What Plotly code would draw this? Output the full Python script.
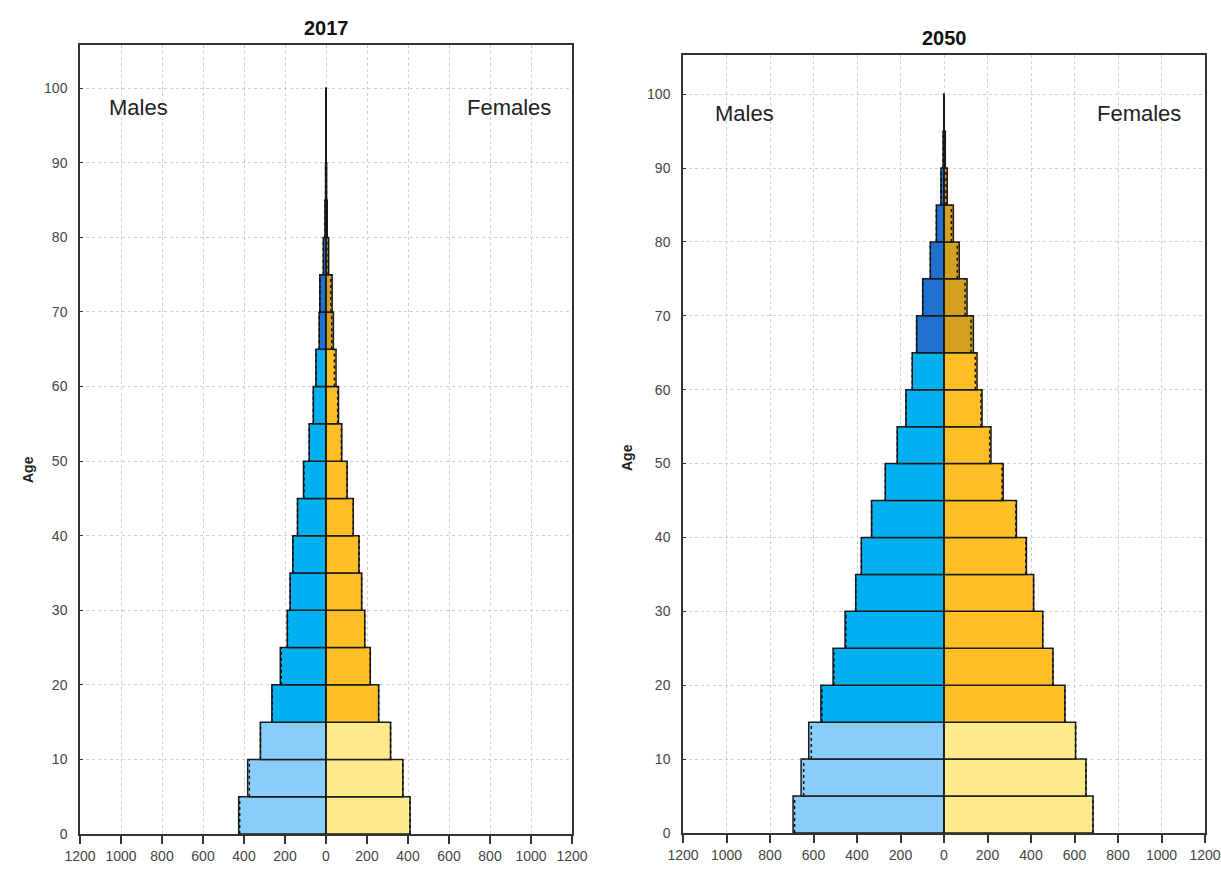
import plotly.graph_objects as go
from plotly.subplots import make_subplots

# Age groups: 0-4, 5-9, ..., 95-99 (lower bound of each group)
AGE_START = [0, 5, 10, 15, 20, 25, 30, 35, 40, 45, 50, 55, 60, 65, 70, 75, 80, 85, 90, 95]

# 2017 population (thousands)
MALE_2017 = [426, 382, 320, 264, 223, 189, 175, 162, 139, 110, 82, 62, 49, 33, 30, 13, 5, 2, 1, 0.5]
FEMALE_2017 = [410, 375, 315, 257, 216, 189, 174, 161, 133, 103, 77, 61, 49, 36, 30, 13, 6, 3, 1, 0.5]
# comparison outline (dotted)
MALE_2017_REF = [421, 374, 320, 262, 218, 188, 175, 161, 139, 107, 82, 62, 49, 33, 30, 13, 5, 2, 1, 0.5]
FEMALE_2017_REF = [410, 375, 315, 257, 216, 189, 174, 161, 133, 103, 75, 57, 41, 28, 24, 10, 5, 2, 1, 0.5]

# 2050 population (thousands)
MALE_2050 = [694, 657, 622, 566, 510, 455, 406, 380, 333, 270, 215, 175, 146, 126, 98, 63, 35, 14, 4, 1]
FEMALE_2050 = [685, 653, 605, 556, 501, 454, 412, 379, 333, 272, 216, 175, 152, 135, 106, 70, 43, 15, 6, 1]
MALE_2050_REF = [687, 645, 610, 561, 506, 451, 406, 380, 333, 270, 215, 175, 146, 126, 98, 63, 35, 14, 4, 1]
FEMALE_2050_REF = [685, 653, 605, 556, 501, 454, 412, 376, 330, 267, 210, 170, 144, 124, 97, 61, 34, 9, 3, 1]

X_TICKS = [-1200, -1000, -800, -600, -400, -200, 0, 200, 400, 600, 800, 1000, 1200]
Y_TICKS = [0, 10, 20, 30, 40, 50, 60, 70, 80, 90, 100]

# colours: child (0-14), working (15-64), old (65+)
MALE_COLORS = ['#8ACDF8', '#00B0F0', '#1F70CF']
FEMALE_COLORS = ['#FEE98B', '#FDBF25', '#D4A020']

FONT = 'Liberation Sans Narrow, Arial Narrow, Liberation Sans, Arial, sans-serif'


def band_color(age, palette):
    if age < 15:
        return palette[0]
    if age < 65:
        return palette[1]
    return palette[2]


def dotted_edges(values, sign):
    xs, ys = [], []
    for a, v in zip(AGE_START, values):
        xs += [sign * v, sign * v, None]
        ys += [a, a + 5, None]
    return xs, ys


fig = make_subplots(rows=1, cols=2)

panels = [
    (1, MALE_2017, FEMALE_2017, MALE_2017_REF, FEMALE_2017_REF),
    (2, MALE_2050, FEMALE_2050, MALE_2050_REF, FEMALE_2050_REF),
]

mids = [a + 2.5 for a in AGE_START]
for col, male, female, male_ref, female_ref in panels:
    fig.add_trace(go.Bar(
        y=mids, x=[-v for v in male], orientation='h', width=5,
        marker=dict(color=[band_color(a, MALE_COLORS) for a in AGE_START],
                    line=dict(color='#1a1a1a', width=1.5)),
        name='Males', showlegend=False,
    ), row=1, col=col)
    fig.add_trace(go.Bar(
        y=mids, x=female, orientation='h', width=5,
        marker=dict(color=[band_color(a, FEMALE_COLORS) for a in AGE_START],
                    line=dict(color='#1a1a1a', width=1.5)),
        name='Females', showlegend=False,
    ), row=1, col=col)
    for vals, sign in ((male_ref, -1), (female_ref, 1)):
        xs, ys = dotted_edges(vals, sign)
        fig.add_trace(go.Scatter(
            x=xs, y=ys, mode='lines', line=dict(color='#111', width=1.5, dash='dot'),
            showlegend=False, hoverinfo='skip',
        ), row=1, col=col)
    # centre line up to age 100
    fig.add_shape(type='line', x0=0, x1=0, y0=0, y1=100,
                  line=dict(color='#1a1a1a', width=1.5), row=1, col=col)

axis_common = dict(
    showline=True, linecolor='#333', linewidth=1.5, mirror=True, automargin=False,
    showgrid=True, gridcolor='#cfcfcf', griddash='dot', gridwidth=1,
    zeroline=False, tickfont=dict(family=FONT, size=14, color='#444'),
)

fig.update_xaxes(
    range=[-1200, 1200], tickvals=X_TICKS, ticktext=[str(abs(t)) for t in X_TICKS],
    ticks='outside', ticklen=8, tickcolor='#333', tickwidth=1.5, **axis_common,
)
fig.update_yaxes(
    tickvals=Y_TICKS, ticks='inside', ticklen=3, tickcolor='#333',
    ticklabelstandoff=8, **axis_common,
)

fig.update_layout(
    width=1221, height=883,
    margin=dict(l=0, r=0, t=0, b=0, autoexpand=False),
    paper_bgcolor='white', plot_bgcolor='white',
    barmode='overlay',
    font=dict(family=FONT, color='#222'),
    xaxis=dict(domain=[80 / 1221, 572 / 1221]),
    xaxis2=dict(domain=[683 / 1221, 1205 / 1221]),
    yaxis=dict(domain=[1 - 834 / 883, 1 - 45 / 883], range=[0, 105.8]),
    yaxis2=dict(domain=[1 - 833 / 883, 1 - 55 / 883], range=[0, 105.3]),
)

# panel titles, sex labels and axis titles
titles = [('2017', 'x domain', 'y domain', 1 + 17 / 789), ('2050', 'x2 domain', 'y2 domain', 1 + 17 / 778)]
for text, xr, yr, ypos in titles:
    fig.add_annotation(text='<b>%s</b>' % text, xref=xr, yref=yr, x=0.5, y=ypos,
                       yanchor='middle', showarrow=False,
                       font=dict(family='Liberation Sans, Arial, sans-serif', size=20, color='#111'))

for xr, yr in (('x', 'y'), ('x2', 'y2')):
    fig.add_annotation(text='Males', xref=xr, yref=yr, x=-915, y=97.4, showarrow=False,
                       font=dict(family=FONT, size=22, color='#222'))
    fig.add_annotation(text='Females', xref=xr, yref=yr, x=895, y=97.4, showarrow=False,
                       font=dict(family=FONT, size=22, color='#222'))

for xpos, ypos in ((18 / 1221, 1 - 470 / 883), (627 / 1221, 1 - 458 / 883)):
    fig.add_annotation(text='<b>Age</b>', xref='paper', yref='paper', x=xpos, y=ypos,
                       textangle=-90, showarrow=False,
                       font=dict(family='Liberation Sans, Arial, sans-serif', size=14, color='#222'))

fig.write_html("out.html", config={'displayModeBar': False},
               post_script="document.body.style.margin='0';")
